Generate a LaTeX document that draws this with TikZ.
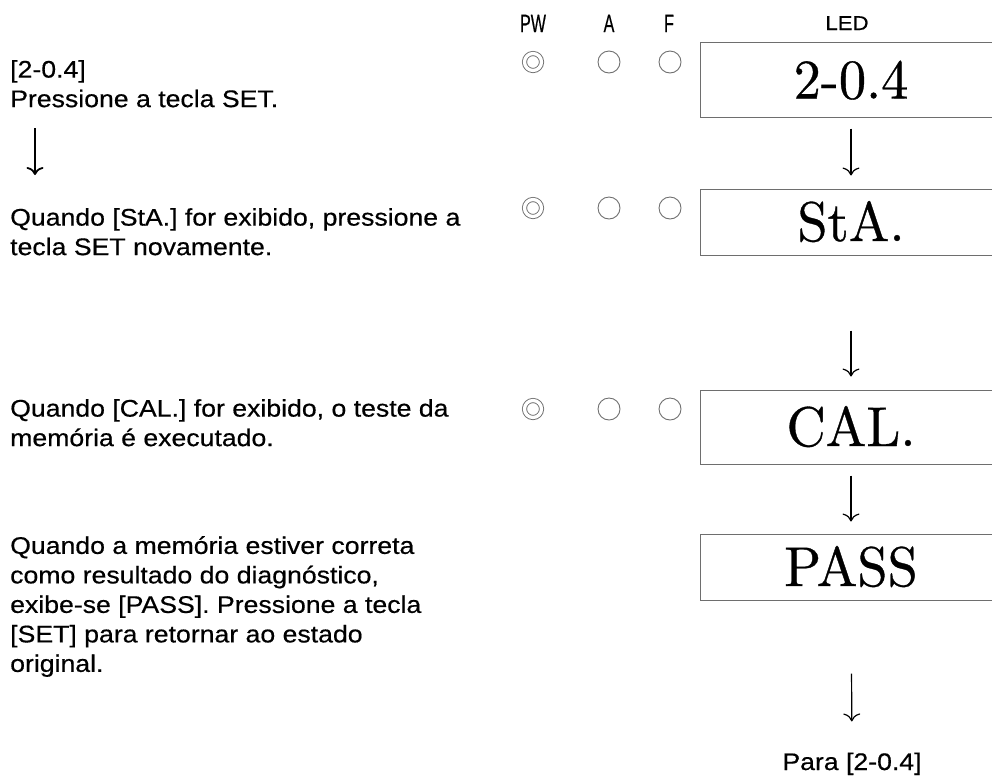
\documentclass[tikz,border=0pt]{standalone}
\usepackage{fontspec}
\setmainfont[FakeStretch=1.11, FakeBold=0.5]{Liberation Sans}
\newfontfamily\ledfam[FakeStretch=0.97, FakeBold=0.6]{lmroman10-regular.otf}
\usetikzlibrary{arrows.meta,positioning}
\definecolor{lgray}{HTML}{6e6e6e}
\newcommand\ledfont{\ledfam\fontsize{56}{56}\selectfont}
\tikzset{
	every picture/.style={font=\fontsize{24}{29.5}\selectfont,},
	desc/.style={anchor=north west, align=left, inner sep=0pt,},
	hdr/.style={anchor=base, inner sep=0pt, font=\fontsize{25}{25}\selectfont,},
	lamp/.style={circle, draw=lgray, line width=0.9pt, minimum size=22pt, inner sep=0pt,},
	lampon/.style={circle, draw=lgray, double, double distance=3.3pt, line width=0.9pt, minimum size=17pt, inner sep=0pt,},
	led/.style={draw=lgray, line width=1pt, minimum width=302pt, inner sep=0pt, font=\ledfont, text height=38pt, text depth=0pt,},
	flow/.style={line width=1.2pt, -{To[length=8pt,width=17pt]},},
}

\begin{document}
\begin{tikzpicture}[x=1pt, y=-1pt]

	\useasboundingbox (0,0) rectangle (992,780);

	%%% Header

	\node[hdr] (hpw) at (533,32) {\scalebox{0.58}[1]{PW}};
	\node[hdr] (ha) at (609,32) {\scalebox{0.58}[1]{A}};
	\node[hdr] (hf) at (669,32) {\scalebox{0.58}[1]{F}};
	\node[hdr, font=\fontsize{20}{20}\selectfont] (hled) at (847,30) {LED};

	%%% Lamps

	\foreach \r/\y in {1/62, 2/208, 3/409} {
		\node[lampon] (pw\r) at (533,\y) {};
		\node[lamp] (a\r) at (609,\y) {};
		\node[lamp] (f\r) at (670,\y) {};
	}

	%%% LED display

	\node[led, minimum height=75pt] (led1) at (851,79.5) {2-0.4};
	\node[led, minimum height=66pt] (led2) at (851,222) {StA.};
	\node[led, minimum height=74pt] (led3) at (851,427) {CAL.};
	\node[led, minimum height=66pt] (led4) at (851,567) {PASS};
	\node[anchor=base, inner sep=0pt] (para) at (852,770) {Para [2-0.4]};

	\draw[flow, shorten <=11pt, shorten >=13pt] (led1) -- (led2);
	\draw[flow, shorten <=75pt, shorten >=13pt] (led2) -- (led3);
	\draw[flow, shorten <=11pt, shorten >=12pt] (led3) -- (led4);
	\draw[flow, shorten <=73pt, shorten >=31pt] (led4) -- (para);

	%%% Steps

	\node[desc] (t1) at (10,60) {[2-0.4]\\Pressione a tecla SET.};
	\node[desc] (t2) at (10,208) {Quando [StA.] for exibido, pressione a\\tecla SET novamente.};
	\node[desc] (t3) at (10,399) {Quando [CAL.] for exibido, o teste da\\mem\'oria \'e executado.};
	\node[desc] (t4) at (10,536) {Quando a mem\'oria estiver correta\\como resultado do diagn\'ostico,\\exibe-se [PASS]. Pressione a tecla\\{}[SET] para retornar ao estado\\original.};

	\coordinate (la) at (35,128);
	\coordinate (lb) at (35,175);
	\draw[flow, line width=1.8pt] (la) -- (lb);

\end{tikzpicture}
\end{document}
